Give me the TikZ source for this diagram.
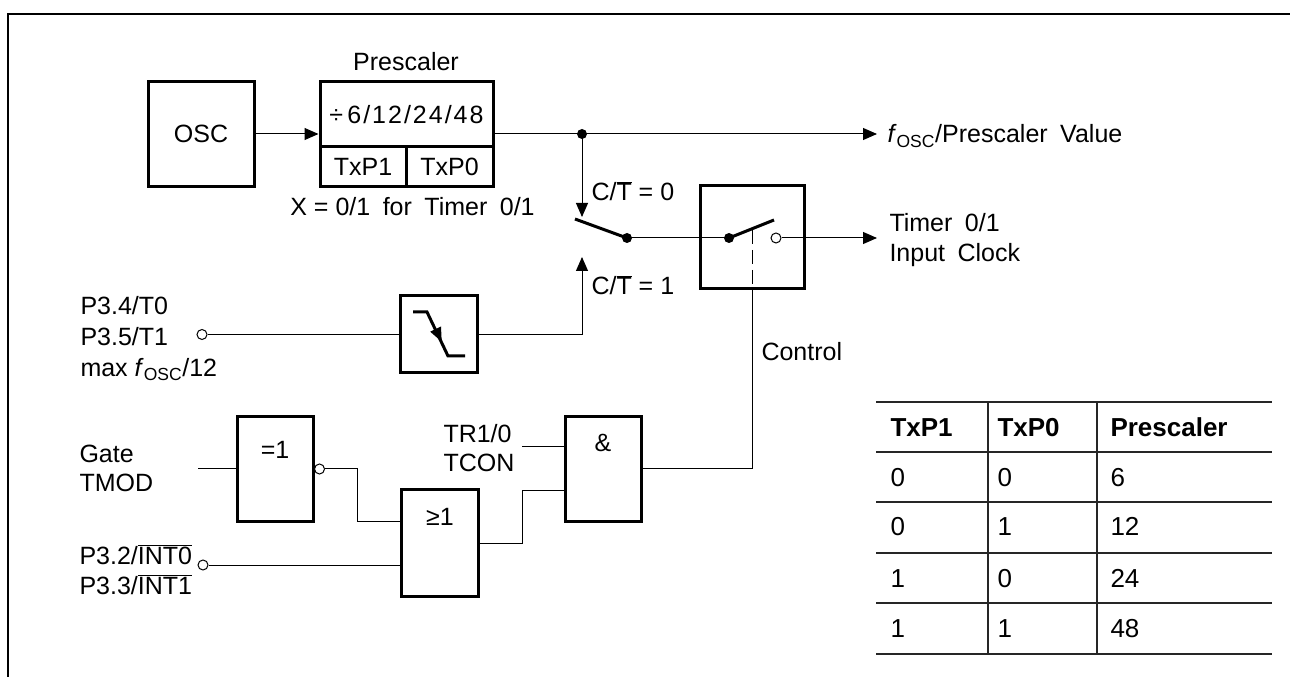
\documentclass[tikz,border=0pt]{standalone}
\usepackage{fontspec}
\setmainfont{Liberation Sans}
\usetikzlibrary{arrows.meta}

\newcommand\dia{\fontsize{18.75}{22.5}\selectfont}
\newcommand\fosc{\textit{f}\textsubscript{OSC}}
\newcommand\ovl[1]{\ensuremath{\overline{\mbox{#1}}}}
\newcommand\ovls[1]{\ensuremath{\smash{\overline{\mbox{#1}}}}}

\tikzset{every picture/.style={line width=0.75pt}}
\tikzset{
  blk/.style={draw, line width=2.25pt, inner sep=0pt, font=\dia},
  lbl/.style={inner sep=0pt, font=\dia},
  arr/.style={-{Triangle[length=10.5pt,width=9pt]}},
  dot/.style={circle, fill, inner sep=0pt, minimum size=7.5pt},
  pin/.style={circle, draw, fill=white, inner sep=0pt, minimum size=7.5pt},
  blade/.style={line width=2.25pt},
  dashline/.style={dash pattern=on 10.5pt off 4.5pt},
  tline/.style={line width=1pt, black!85},
  tcell/.style={inner sep=0pt, anchor=base west, font=\fontsize{19.5}{23}\selectfont},
  thead/.style={tcell, font=\fontsize{19.5}{23}\selectfont\bfseries},
}

\begin{document}
\begin{tikzpicture}[x=0.75pt,y=0.75pt,yscale=-1,xscale=1]
\useasboundingbox (0,0) rectangle (1290,677);

%Shape: Frame
\draw [line width=1.5pt] (1290,14) -- (8,14) -- (8,677) ;

%Shape: Square [osc]
\node [blk, minimum width=79.5pt, minimum height=78.75pt] (osc) at (201,134) {OSC};
%Shape: Rectangle [prescaler]
\node [blk, minimum width=129.75pt, minimum height=49.125pt] (presc) at (406.5,114.25) {\addfontfeature{LetterSpace=8}÷\,6/12/24/48};
\node [blk, minimum width=64.5pt, minimum height=29.625pt] (txp1) at (363,166.75) {TxP1};
\node [blk, minimum width=65.25pt, minimum height=29.625pt] (txp0) at (449.5,166.75) {TxP0};
%Shape: Square [run switch]
\node [blk, minimum width=78pt, minimum height=77.25pt] (ctrl) at (752,237.5) {};
%Shape: Square [edge]
\node [blk, minimum size=57.75pt] (edge) at (439,334.5) {};
%Shape: Rectangle [gates]
\node [blk, minimum width=57pt, minimum height=78pt] (eq) at (275,469) {};
\node [blk, minimum width=57.75pt, minimum height=79.5pt] (or) at (439.5,543) {};
\node [blk, minimum width=57pt, minimum height=78pt] (and) at (603,469) {};

%Shape: falling edge
\draw [blade] (413,312) -- (427,312) -- (448,356) -- (465,356) ;
\fill (441.7,341.7) -- (441,326.5) -- (430.2,331.7) -- cycle ;

%Straight Lines [clock path]
\draw [arr] (osc.east) -- (osc.east -| presc.west) ;
\node [dot] (jn) at (582,134) {};
\coordinate (foscin) at (877,134);
\draw [arr] (osc.east -| presc.east) -- (foscin) ;
\coordinate (c0) at (582,217);
\draw [arr] (jn.center) -- (c0) ;
\node [dot] (mux) at (627,238) {};
\draw [blade] (mux.center) -- (575,219) ;
\node [pin] (tin) at (202,334.5) {};
\draw (tin.east) -- (edge.west) ;
\coordinate (c1) at (582,257);
\draw [arr] (edge.east) -| (c1) ;
\node [dot] (swin) at (729,238) {};
\node [pin] (swout) at (776,238) {};
\draw (mux.center) -- (swin.center) ;
\draw [blade] (swin.center) -- (774,220) ;
\coordinate (tmrin) at (877,238);
\draw [arr] (swout.east) -- (tmrin) ;
\draw [dashline] (752,230) -- (ctrl.south) ;

%Straight Lines [gate path]
\coordinate (gin) at (198,469);
\draw (gin) -- (eq.west) ;
\node [pin] (eqneg) at (319.5,469) {};
\coordinate (or1) at (401,521);
\coordinate (or2) at (401,565);
\draw (eqneg.east) -- (357,469) |- (or1) ;
\node [pin] (int) at (203,565) {};
\draw (int.east) -- (or2) ;
\coordinate (and1) at (565,447);
\coordinate (and2) at (565,491);
\draw (or.east) -- (522,543) |- (and2) ;
\coordinate (tr) at (522,447);
\draw (tr) -- (and1) ;
\draw (and.east) -| (ctrl.south) ;

% Text Node
\node [lbl, anchor=base] (presclbl) at (406,71) {Prescaler};
% Text Node
\node [lbl, anchor=base] (xlbl) at (412.5,216) {X = 0/1\enspace for\enspace Timer\enspace 0/1};
% Text Node
\node [lbl, anchor=base west] (fosc) at (887,143) {\fosc/Prescaler\enspace Value};
% Text Node
\node [lbl, anchor=base west] (ct0) at (591,201) {C/\ovl{T} = 0};
% Text Node
\node [lbl, anchor=base west] (ct1) at (591,295) {C/\ovl{T} = 1};
% Text Node
\node [lbl, anchor=north west, align=left] (tmr) at (889,213) {Timer\enspace 0/1\\Input\enspace Clock};
% Text Node
\node [lbl, anchor=base west] (ctl) at (761,361) {Control};
% Text Node
\node [lbl, anchor=north west, align=left, font=\fontsize{18.75}{23.25}\selectfont] (tpin) at (80,296) {P3.4/T0\\P3.5/T1\\max \fosc/12};
% Text Node
\node [lbl, anchor=north west, align=left, font=\fontsize{18.75}{21.75}\selectfont] (gate) at (79,445) {Gate\\TMOD};
% Text Node
\node [lbl, anchor=north west, align=left] (intlbl) at (79,546) {P3.2/\ovls{INT0}\\P3.3/\ovls{INT1}};
% Text Node
\node [lbl, anchor=north west, align=left, font=\fontsize{18.75}{21.75}\selectfont] (trlbl) at (443,424) {TR1/0\\TCON};
% Text Node
\node [lbl] (eqtxt) at (275,450) {=1};
% Text Node
\node [lbl] (ortxt) at (440,517) {≥1};
% Text Node
\node [lbl] (andtxt) at (603,443) {\&};

%Straight Lines [table]
\draw [tline] (876,402) -- (1272,402) ;
\draw [tline] (876,452) -- (1272,452) ;
\draw [tline] (876,502) -- (1272,502) ;
\draw [tline] (876,553) -- (1272,553) ;
\draw [tline] (876,603) -- (1272,603) ;
\draw [tline] (876,654) -- (1272,654) ;
\draw [tline] (988,402) -- (988,654) ;
\draw [tline] (1097,402) -- (1097,654) ;

% Text Node
\node [thead] (h1) at (890,436) {TxP1};
\node [thead] (h2) at (997,436) {TxP0};
\node [thead] (h3) at (1110,436) {Prescaler};
% Text Node
\node [tcell] (r1a) at (890,486) {0};
\node [tcell] (r1b) at (997,486) {0};
\node [tcell] (r1c) at (1110,486) {6};
% Text Node
\node [tcell] (r2a) at (890,536) {0};
\node [tcell] (r2b) at (997,536) {1};
\node [tcell] (r2c) at (1110,536) {12};
% Text Node
\node [tcell] (r3a) at (890,587) {1};
\node [tcell] (r3b) at (997,587) {0};
\node [tcell] (r3c) at (1110,587) {24};
% Text Node
\node [tcell] (r4a) at (890,637) {1};
\node [tcell] (r4b) at (997,637) {1};
\node [tcell] (r4c) at (1110,637) {48};

\end{tikzpicture}
\end{document}
